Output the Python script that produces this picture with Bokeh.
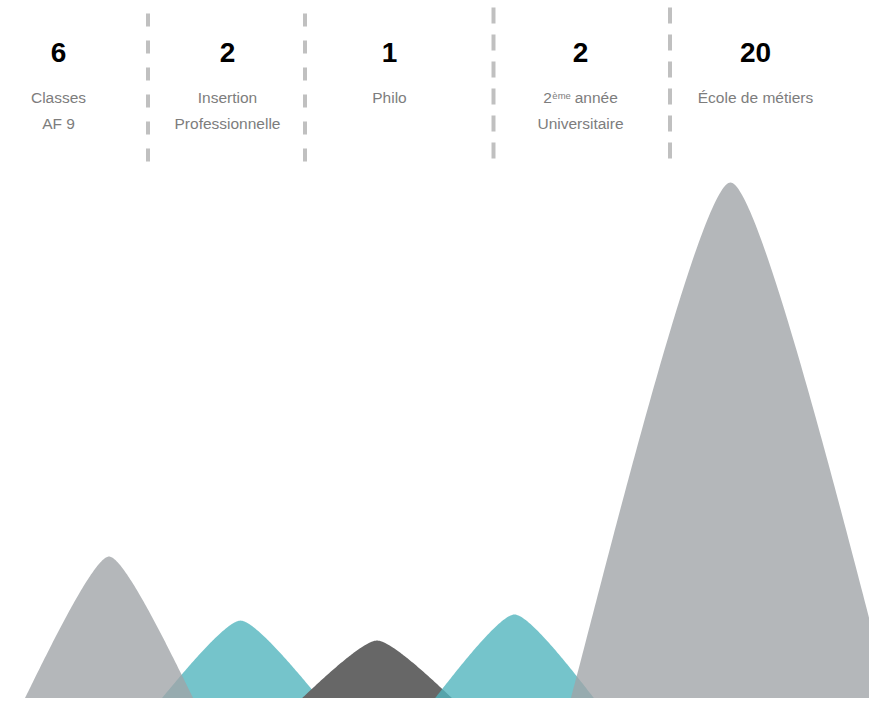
import numpy as np
from bokeh.plotting import figure
from bokeh.models import Range1d
from bokeh.embed import file_html
from bokeh.resources import INLINE
from bokeh.core.properties import value

# ---------------- data ----------------
counts = [6, 2, 1, 2, 20]
label_line1 = ["Classes", "Insertion", "Philo", "2ème année", "École de métiers"]
label_line2 = ["AF 9", "Professionnelle", "", "Universitaire", ""]

# peaks (x position on a 0-100 axis, height on a value axis, half width on the x axis)
peak_pos = [12.49, 27.62, 43.33, 59.15, 84.0]
peak_height = [5.94, 3.53, 2.78, 3.76, 20.0]
peak_halfwidth = [10.64, 10.64, 10.64, 10.64, 18.9]

# ---------------- style / layout ----------------
peak_color = ["#A0A4A8", "#50B4BD", "#676767", "#50B4BD", "#A0A4A8"]
peak_alpha = [0.79, 0.79, 1.0, 0.79, 0.79]
draw_order = [1, 2, 3, 0, 4]
tension_k = 0.1

col_x = [58, 227, 389, 580, 755]
num_y = 52
line1_y = 97
line2_y = 123
sep_x_a = [147.5, 304.5]
sep_x_b = [493, 669.5]

FONT = "Liberation Sans"
LABEL_COLOR = "#7d7d7d"
LABEL_SIZE = 15.5

W, H = 869, 698
p = figure(width=W, height=H, output_backend="svg", toolbar_location=None,
           x_range=Range1d(0, W), y_range=Range1d(H, 0),
           x_axis_location=None, y_axis_location=None, min_border=0,
           background_fill_color="white", border_fill_color="white")
p.outline_line_color = None
p.grid.visible = False

# value axis: 0 at y 714 (just below the visible frame), 26.6 px per unit
px_per_unit = 26.6
p.extra_x_ranges = {"pos": Range1d(0, 100 * W / 869.0)}
p.extra_y_ranges = {"val": Range1d((714 - H) / px_per_unit, 714 / px_per_unit)}


def bez(p0, p1, p2, p3, t):
    return ((1 - t) ** 3)[:, None] * p0 + (3 * (1 - t) ** 2 * t)[:, None] * p1 + \
           (3 * (1 - t) * t ** 2)[:, None] * p2 + (t ** 3)[:, None] * p3


t = np.linspace(0, 1, 100)
for i in draw_order:
    c, h, hw = peak_pos[i], peak_height[i], peak_halfwidth[i]
    A = np.array([c - hw, 0.0])
    B = np.array([c, h])
    C = np.array([c + hw, 0.0])
    k = tension_k
    left = bez(A, A + (B - A) * k, B - (C - A) * k, B, t)
    right = bez(B, B + (C - A) * k, C + (B - C) * k, C, t)
    pts = np.vstack([left, right[1:]])
    p.patch(pts[:, 0], pts[:, 1], x_range_name="pos", y_range_name="val",
            fill_color=peak_color[i], fill_alpha=peak_alpha[i], line_color=None)

# separators
p.segment(x0=sep_x_a, y0=[13, 13], x1=sep_x_a, y1=[162, 162],
          line_color="#c0c0c0", line_width=4, line_dash="13 14")
p.segment(x0=sep_x_b, y0=[7, 7], x1=sep_x_b, y1=[158, 158],
          line_color="#c0c0c0", line_width=4, line_dash="16 11")

# numbers
p.text(x=col_x, y=[num_y] * len(col_x), text=[str(v) for v in counts],
       text_font=value(FONT), text_font_style="bold", text_font_size="28px",
       text_color="#000000", text_align="center", text_baseline="alphabetic")

# labels (plain)
plain_idx = [i for i in range(len(col_x)) if "ème" not in label_line1[i]]
p.text(x=[col_x[i] for i in plain_idx], y=[line1_y] * len(plain_idx),
       text=[label_line1[i] for i in plain_idx],
       text_font=value(FONT), text_font_size=f"{LABEL_SIZE}px",
       text_color=LABEL_COLOR, text_align="center", text_baseline="alphabetic")
l2_idx = [i for i in range(len(col_x)) if label_line2[i]]
p.text(x=[col_x[i] for i in l2_idx], y=[line2_y] * len(l2_idx),
       text=[label_line2[i] for i in l2_idx],
       text_font=value(FONT), text_font_size=f"{LABEL_SIZE}px",
       text_color=LABEL_COLOR, text_align="center", text_baseline="alphabetic")

# label with superscript ("2ème année")
SUP_SIZE = 9.5
for i, lab in enumerate(label_line1):
    if "ème" in lab:
        head, rest = lab.split("ème")
        rest = rest.strip()
        w_head = 0.556 * LABEL_SIZE * len(head)
        w_sup = (0.556 + 0.833 + 0.556) * SUP_SIZE
        w_space = 0.278 * LABEL_SIZE
        w_rest = 0.556 * LABEL_SIZE * len(rest)
        total = w_head + w_sup + w_space + w_rest
        x0 = col_x[i] - total / 2
        p.text(x=[x0], y=[line1_y], text=[head], text_font=value(FONT),
               text_font_size=f"{LABEL_SIZE}px", text_color=LABEL_COLOR,
               text_align="left", text_baseline="alphabetic")
        p.text(x=[x0 + w_head + 0.5], y=[line1_y - 2.5], text=["ème"], text_font=value(FONT),
               text_font_size=f"{SUP_SIZE}px", text_color=LABEL_COLOR,
               text_align="left", text_baseline="alphabetic")
        p.text(x=[x0 + w_head + w_sup + w_space], y=[line1_y], text=[rest], text_font=value(FONT),
               text_font_size=f"{LABEL_SIZE}px", text_color=LABEL_COLOR,
               text_align="left", text_baseline="alphabetic")

open("out.html", "w").write(file_html(p, INLINE))
